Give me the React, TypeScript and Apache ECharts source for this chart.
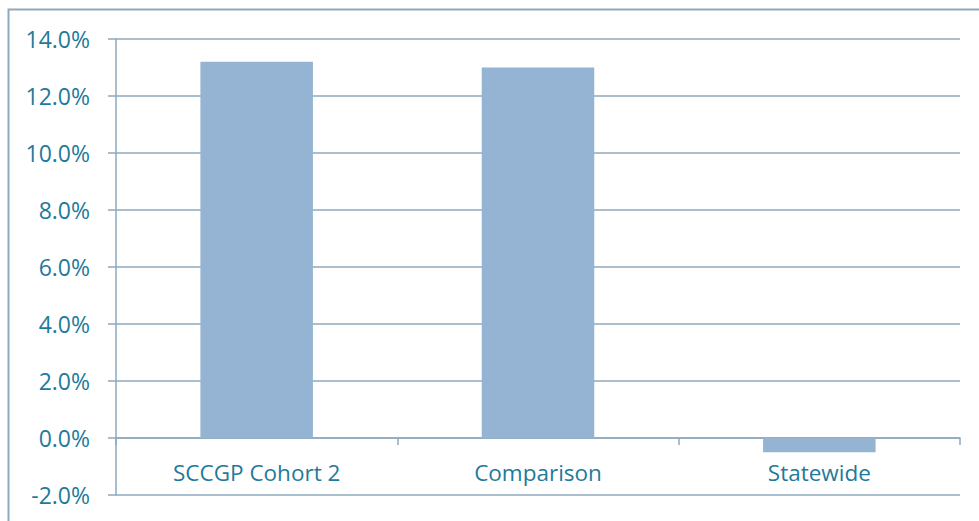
import React, { useEffect, useRef } from "react";
import * as echarts from "echarts";

const categories = ["SCCGP Cohort 2", "Comparison", "Statewide"];
const values = [13.2, 13.0, -0.5];
const yMin = -2;
const yMax = 14;
const yInterval = 2;

export default function App() {
  const ref = useRef<HTMLDivElement>(null);
  useEffect(() => {
    if (!ref.current) return;
    const chart = echarts.init(ref.current, null, { renderer: "svg" });
    const lineColor = "#8FA9BC";
    const textColor = "#1F7A9A";
    const font = "'Open Sans', sans-serif";
    const gridTop = 39;
    const gridBottom = 26;
    const plotH = 521 - gridTop - gridBottom;
    const zeroOffset = (plotH * (0 - yMin)) / (yMax - yMin);
    chart.setOption({
      animation: false,
      backgroundColor: "#ffffff",
      graphic: [
        {
          type: "rect",
          shape: { x: 8.5, y: 9.5, width: 1000, height: 600 },
          style: { fill: "none", stroke: "#8FA9BC", lineWidth: 2 },
          silent: true,
        },
      ],
      grid: {
        left: 116,
        right: 19,
        top: gridTop,
        bottom: gridBottom,
        containLabel: false,
        outerBoundsMode: "none",
      },
      xAxis: {
        type: "category",
        data: categories,
        offset: -zeroOffset,
        axisLine: { onZero: false, lineStyle: { color: lineColor, width: 1.5 } },
        axisTick: { show: true, length: 7, inside: false, lineStyle: { color: lineColor, width: 1.5 } },
        axisLabel: { color: textColor, fontSize: 22.5, fontFamily: font, margin: 23 },
        splitLine: { show: false },
      },
      yAxis: {
        type: "value",
        min: yMin,
        max: yMax,
        interval: yInterval,
        axisLine: { show: true, lineStyle: { color: lineColor, width: 1.5 } },
        axisTick: { show: true, length: 8, lineStyle: { color: lineColor, width: 1.5 } },
        axisLabel: {
          color: textColor,
          fontSize: 23,
          fontFamily: font,
          margin: 26,
          formatter: (v: number) => v.toFixed(1) + "%",
        },
        splitLine: { show: true, lineStyle: { color: lineColor, width: 1.5 } },
      },
      series: [
        {
          type: "bar",
          data: values,
          barWidth: "40%",
          itemStyle: { color: "#95B4D3" },
        },
      ],
    });
    return () => chart.dispose();
  }, []);
  return (
    <div
      ref={ref}
      style={{ position: "fixed", left: 0, top: 0, width: 979, height: 521 }}
    />
  );
}
